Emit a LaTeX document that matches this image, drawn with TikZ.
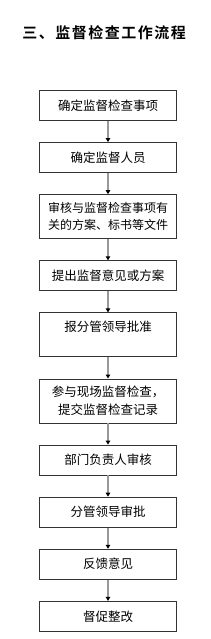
\documentclass[tikz,border=0pt]{standalone}
\usepackage{fontspec}
\newfontfamily\cjk{Noto Sans CJK SC}
\newfontfamily\cjktitle{Noto Sans CJK SC Bold}[LetterSpace=10]
\usetikzlibrary{positioning, arrows.meta}

\begin{document}
\begin{tikzpicture}[
    x=1pt, y=1pt,
    node distance=21.3pt,
    stepbox/.style={
        rectangle,
        draw=black!80,
        line width=0.8pt,
        minimum width=137pt,
        minimum height=30pt,
        inner sep=2pt,
        align=center,
        font=\cjk\fontsize{12.5}{17.5}\selectfont
    },
    tallbox/.style={
        stepbox,
        minimum height=44pt
    },
    flow/.style={
        -{Triangle[length=4pt,width=4.5pt,color=black]},
        draw=black!40,
        line width=1.5pt
    },
    heading/.style={
        font=\cjktitle\fontsize{15}{18}\selectfont
    }
]

    \useasboundingbox (0,0) rectangle (210,-639);

    % Title
    \node[heading] (title) at (104,-33) {三、监督检查工作流程};

    % Nodes
    \node[stepbox, anchor=north] (nodeA) at (108,-90) {确定监督检查事项};
    \node[stepbox, below=of nodeA] (nodeB) {确定监督人员};
    \node[tallbox, below=of nodeB, font=\cjk\fontsize{12}{16.5}\selectfont] (nodeC) {审核与监督检查事项有\\关的方案、标书等文件};
    \node[stepbox, below=of nodeC] (nodeD) {提出监督意见或方案};
    \node[tallbox, below=of nodeD] (nodeE) {报分管领导批准\\~};
    \node[tallbox, below=of nodeE] (nodeF) {参与现场监督检查，\\提交监督检查记录};
    \node[stepbox, below=of nodeF] (nodeG) {部门负责人审核};
    \node[stepbox, below=of nodeG] (nodeH) {分管领导审批};
    \node[stepbox, below=of nodeH] (nodeI) {反馈意见};
    \node[stepbox, below=of nodeI] (nodeJ) {督促整改};

    % Arrows
    \draw[flow] (nodeA) -- (nodeB);
    \draw[flow] (nodeB) -- (nodeC);
    \draw[flow] (nodeC) -- (nodeD);
    \draw[flow] (nodeD) -- (nodeE);
    \draw[flow] (nodeE) -- (nodeF);
    \draw[flow] (nodeF) -- (nodeG);
    \draw[flow] (nodeG) -- (nodeH);
    \draw[flow] (nodeH) -- (nodeI);
    \draw[flow] (nodeI) -- (nodeJ);

\end{tikzpicture}
\end{document}
